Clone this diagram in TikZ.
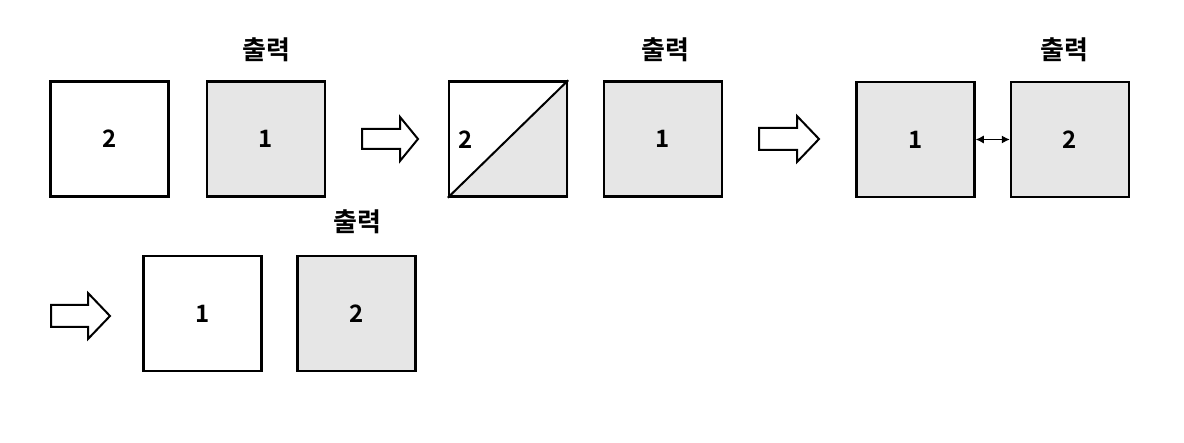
\documentclass[tikz,border=0pt]{standalone}
\usepackage{fontspec}
\usetikzlibrary{arrows.meta}
\setmainfont{Noto Sans CJK KR}[BoldFont={* Bold}]
\newfontfamily\krfont{Noto Sans CJK KR Bold}
\begin{document}
\begin{tikzpicture}[x=1pt,y=-1pt,
  box/.style={draw=black,line width=2.5pt,minimum width=118pt,minimum height=115pt,inner sep=0pt,font=\krfont\fontsize{24}{24}\selectfont},
  wbox/.style={box,fill=white},
  gbox/.style={box,fill=boxgray},
  outlbl/.style={inner sep=0pt,font=\krfont\fontsize{26}{26}\selectfont},
  numlbl/.style={inner sep=0pt,font=\krfont\fontsize{24}{24}\selectfont},
  blockarrow/.style={draw=black,fill=white,line width=2pt,line join=miter},
  dbl/.style={line width=1pt,{Latex[length=8pt,width=8pt]}-{Latex[length=8pt,width=8pt]},shorten <=0pt,shorten >=0pt}
]
\definecolor{boxgray}{HTML}{E6E6E6}
\useasboundingbox (0,0) rectangle (1184,443);
% row 1
\node[wbox] (A) at (109.5,139) {2};
\node[gbox] (B) at (266,139) {1};
\node[outlbl] (outB) at (266,50) {출력};
\draw[blockarrow] (362,129) -- (400,129) -- (400,117) -- (418,139) -- (400,161) -- (400,149) -- (362,149) -- cycle;
\node[wbox] (C) at (508,139) {};
\fill[boxgray] (C.south west) -- (C.north east) -- (C.south east) -- cycle;
\draw[line width=2pt] (C.south west) -- (C.north east);
\node[box] (Cb) at (508,139) {};
\node[numlbl] (Cl) at (466,140) {2};
\node[gbox] (D) at (663,139) {1};
\node[outlbl] (outD) at (665,50) {출력};
\draw[blockarrow] (759,128) -- (797,128) -- (797,116) -- (819,139) -- (797,162) -- (797,150) -- (759,150) -- cycle;
\node[gbox] (E) at (915.5,139.5) {1};
\node[gbox] (F) at (1070,139.5) {2};
\node[outlbl] (outF) at (1064,50) {출력};
\draw[dbl] (E.east) -- (F.west);
% row 2
\draw[blockarrow] (51,305) -- (88,305) -- (88,293) -- (110,316) -- (88,339) -- (88,327) -- (51,327) -- cycle;
\node[wbox] (G) at (202.5,313.5) {1};
\node[gbox] (H) at (356.5,313.5) {2};
\node[outlbl] (outH) at (357,222) {출력};
\end{tikzpicture}
\end{document}
